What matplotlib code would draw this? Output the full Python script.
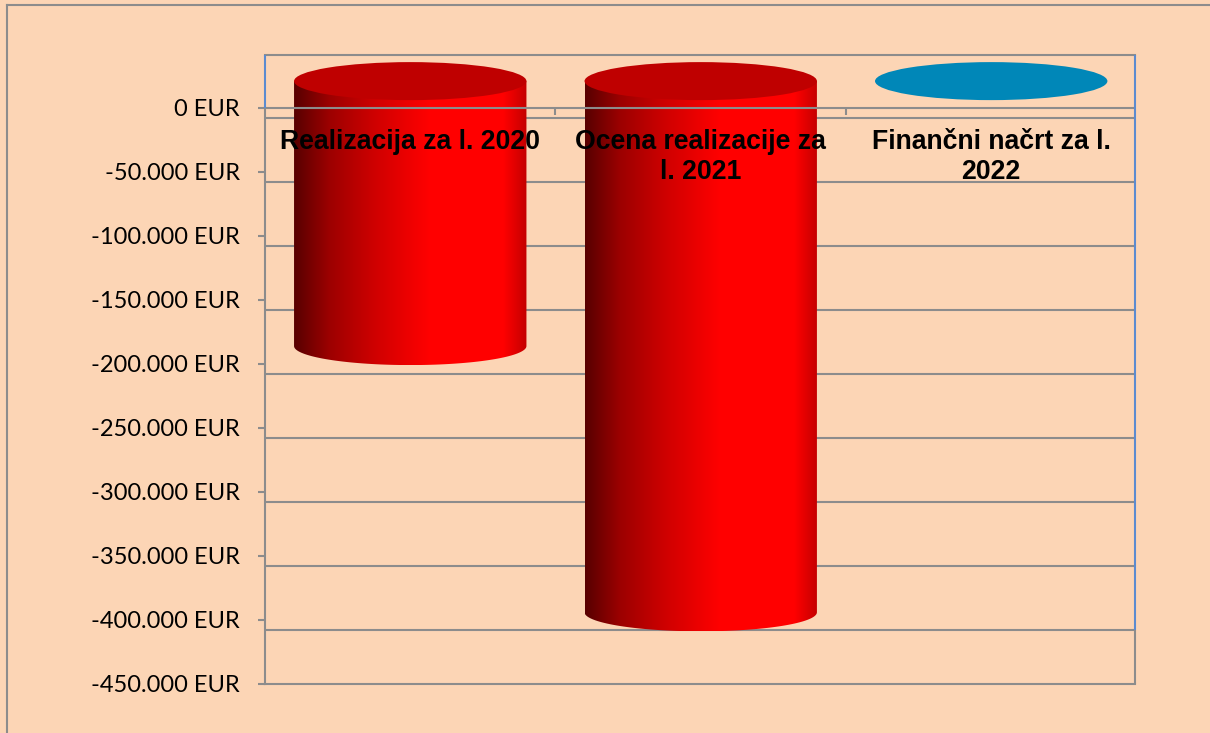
import numpy as np
import matplotlib.pyplot as plt
from matplotlib.path import Path
from matplotlib.patches import Ellipse, PathPatch
from matplotlib.lines import Line2D
from matplotlib.colors import LinearSegmentedColormap

# podatki
kategorije = ['Realizacija za l. 2020', 'Ocena realizacije za\nl. 2021', 'Finančni načrt za l.\n2022']
vrednosti = [-207000, -415000, 0]
barve_vrh = ['#BF0000', '#BF0000', '#0087B8']
y_ticki = list(range(0, -450001, -50000))
y_oznake = [f"{v:,} EUR".replace(',', '.') for v in y_ticki]

ozadje = '#FCD5B5'
siva = '#8C8C8C'
modra = '#5B8BD0'

# "3D" nastavitve
dvig = 21000      # valji so zamaknjeni navzgor
zamik = 8200      # mreza na zadnji steni je malo nizje
sirina = 0.80
elipsa_h = 29700
y_top = 41400

fig = plt.figure(figsize=(12.1, 7.33), dpi=100)
fig.patch.set_facecolor(ozadje)
ax = fig.add_axes([265/1210, 1 - 684/733, 870/1210, 629/733])
ax.set_facecolor(ozadje)

# mreza na zadnji steni
for v in y_ticki[:-1]:
    ax.axhline(v - zamik, color=siva, lw=1.5, zorder=1)

# valji
cmap = LinearSegmentedColormap.from_list('valj', [
    (0.0, '#580000'), (0.15, '#9C0000'), (0.35, '#D00000'),
    (0.58, '#FF0000'), (0.9, '#FF0000'), (1.0, '#C40000')])
gradient = np.linspace(0, 1, 256).reshape(1, -1)

for i, val in enumerate(vrednosti):
    if val != 0:
        vrh = dvig
        dno = val + dvig
        t = np.linspace(np.pi, 2 * np.pi, 80)
        xs = i + sirina / 2 * np.cos(t)
        ys = dno + elipsa_h / 2 * np.sin(t)
        verts = [(i - sirina / 2, vrh)] + list(zip(xs, ys)) + [(i + sirina / 2, vrh), (i - sirina / 2, vrh)]
        oblika = PathPatch(Path(verts, closed=True), facecolor='none', edgecolor='none')
        ax.add_patch(oblika)
        im = ax.imshow(gradient, extent=[i - sirina / 2, i + sirina / 2, dno - elipsa_h / 2, vrh],
                       aspect='auto', cmap=cmap, zorder=2, interpolation='bilinear')
        im.set_clip_path(oblika)
    ax.add_patch(Ellipse((i, dvig), sirina, elipsa_h, facecolor=barve_vrh[i],
                         edgecolor='none', zorder=2.5))

# sprednja crta pri 0 in kljukice med kategorijami
ax.axhline(0, color=siva, lw=1.5, zorder=3)
ax.vlines([0.5, 1.5], -5500, 0, color=siva, lw=1.5, zorder=3)

# oznake kategorij
for i, k in enumerate(kategorije):
    ax.text(i, -16500, k, ha='center', va='top', fontsize=19.2, fontweight='bold',
            family='Liberation Sans', linespacing=1.2, zorder=4)

ax.set_xlim(-0.5, 2.495)
ax.set_ylim(-450000, y_top)
ax.set_xticks([])
ax.set_yticks(y_ticki)
ax.set_yticklabels(y_oznake, family='Lato', fontsize=17, color='black')
ax.tick_params(axis='y', length=5, width=1.5, color=siva, pad=13)

for s in ['left', 'bottom', 'top']:
    ax.spines[s].set_color(siva)
    ax.spines[s].set_linewidth(1.5)
ax.spines['left'].set_bounds(-450000, 0)
ax.spines['right'].set_visible(False)
ax.vlines(-0.5, 0, y_top, color=modra, lw=1.5, zorder=3, clip_on=False)
ax.vlines(2.495, -400000 - zamik, y_top, color=modra, lw=1.5, zorder=3, clip_on=False)
ax.vlines(2.495, -450000, -400000 - zamik, color=siva, lw=1.5, zorder=3, clip_on=False)

# okvir slike
fig.add_artist(Line2D([7/1210, 7/1210], [0, 1 - 5/733], color=siva, lw=1.5))
fig.add_artist(Line2D([7/1210, 1], [1 - 5/733, 1 - 5/733], color=siva, lw=1.5))

fig.savefig('out.png', dpi=100, facecolor=ozadje)
